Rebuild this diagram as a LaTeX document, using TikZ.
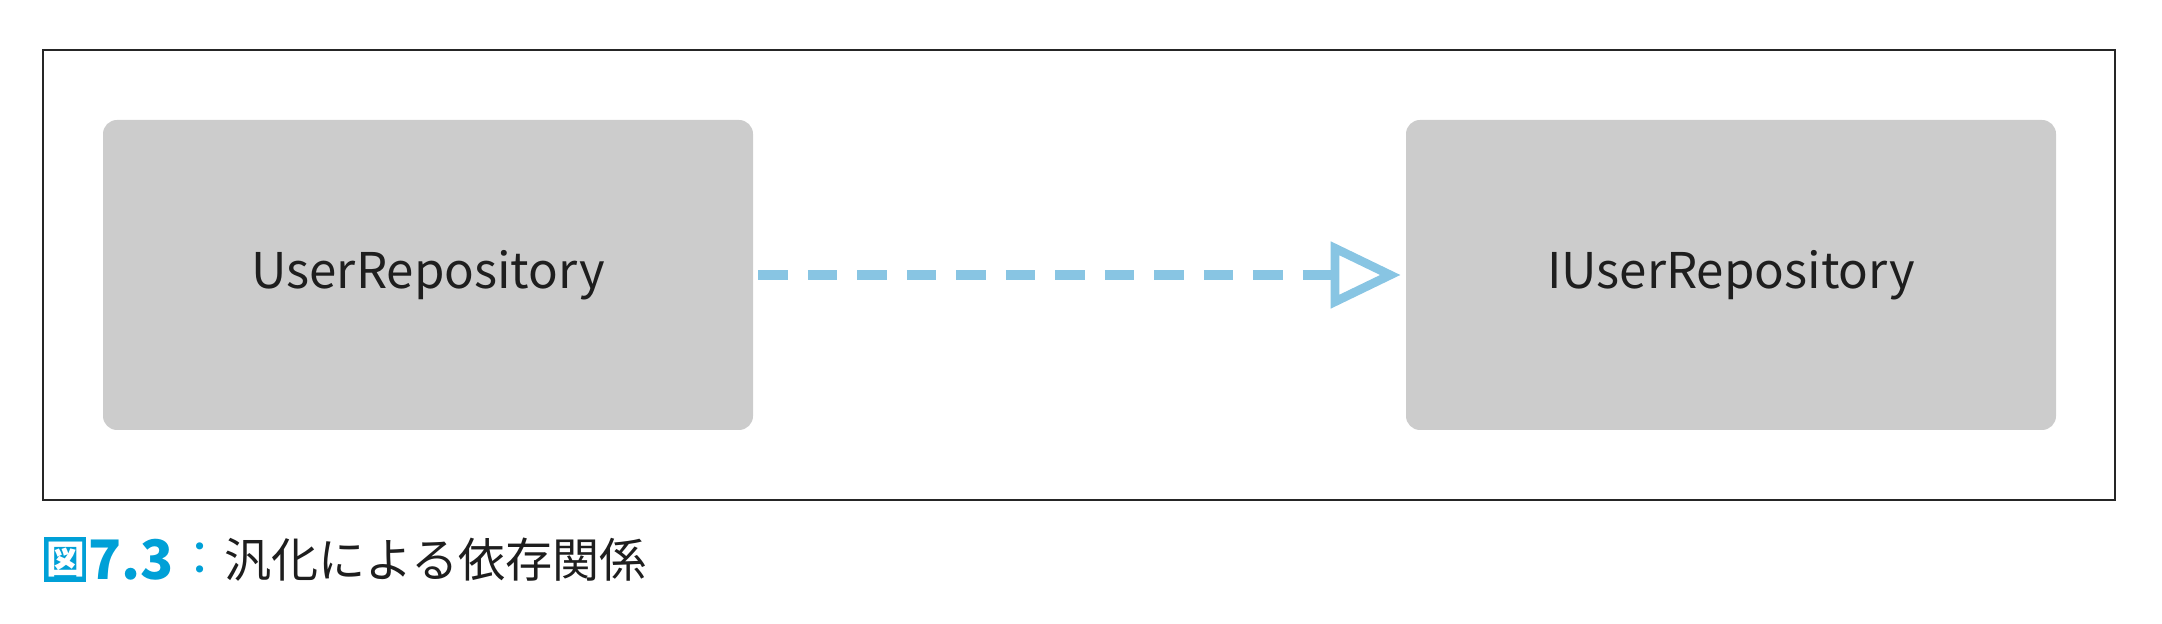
\documentclass[tikz,border=0pt]{standalone}
\usepackage{fontspec}
\setmainfont{Noto Sans CJK JP}
\usepackage{xcolor}
\usepackage{tikz}
\usetikzlibrary{arrows.meta, positioning}
\definecolor{boxfill}{RGB}{204,204,204}
\definecolor{depline}{RGB}{136,197,227}
\definecolor{capblue}{RGB}{0,160,215}
\definecolor{textdark}{RGB}{30,30,30}
\tikzset{
    classbox/.style={
        rectangle,
        rounded corners=0.28cm,
        fill=boxfill,
        text=textdark,
        text centered,
        minimum width=13cm,
        minimum height=6.2cm,
        font=\fontsize{28}{34}\selectfont
    },
    realization/.style={
        draw=depline,
        line width=5.6pt,
        dash pattern=on 0.59cm off 0.4cm,
        -{Triangle[open, length=1.4cm, width=1.3cm, line width=5pt]}
    },
    captiontext/.style={
        font=\fontsize{26.8}{30}\selectfont,
        inner sep=0pt
    }
}

\begin{document}
\begin{tikzpicture}
\useasboundingbox (0,0) rectangle (43.24,12.48);

% Frame
\draw[draw=black!85, line width=1.1pt] (0.86,2.48) rectangle (42.3,11.48);

% Classes
\node[classbox] (repo) at (8.56,6.98) {UserRepository};
\node[classbox] (irepo) at (34.62,6.98) {IUserRepository};

% Dependency
\draw[realization, shorten <=0.1cm, shorten >=0.1cm] (repo) -- (irepo);

% Caption
\node[captiontext, fill=capblue, text=white, font=\fontsize{22}{24}\selectfont\bfseries,
      minimum width=0.84cm, minimum height=0.9cm, anchor=west] (figmark) at (0.88,1.29) {図};
\node[captiontext, right=0.02cm of figmark, text=capblue, font=\fontsize{31}{30}\selectfont\bfseries] (fignum) {7.3};
\node[captiontext, right=0.04cm of fignum, text=capblue] (figcolon) {：};
\node[captiontext, right=0cm of figcolon, text=textdark] (figtitle) {汎化による依存関係};

\end{tikzpicture}
\end{document}
